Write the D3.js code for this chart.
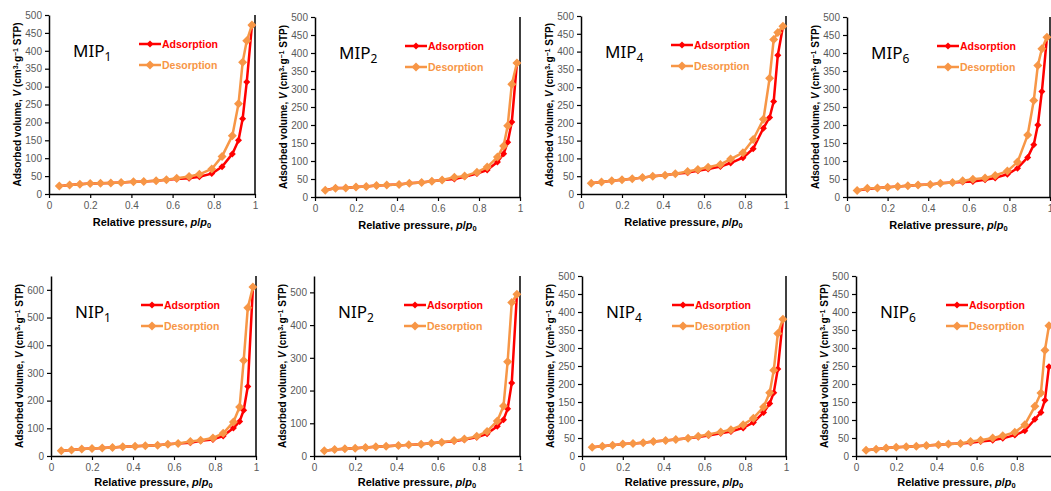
<!DOCTYPE html>
<html>
<head>
<meta charset="utf-8">
<script src="https://cdn.jsdelivr.net/npm/d3@7"></script>
<style>
  html, body { margin: 0; padding: 0; background: #fff; }
  svg { display: block; }
</style>
</head>
<body>
<svg id="chart" width="1051" height="491"></svg>
<script>
// ---------------- DATA ----------------
const pressure = [0.05, 0.10, 0.15, 0.20, 0.25, 0.30, 0.35, 0.41, 0.46, 0.52, 0.57, 0.62, 0.68, 0.73, 0.79, 0.84, 0.89, 0.92, 0.94, 0.96, 0.985];
const xTicks = [0, 0.2, 0.4, 0.6, 0.8, 1];
const xTickLabels = ["0", "0.2", "0.4", "0.6", "0.8", "1"];

const mip1Ads = [22, 25, 27, 29, 30, 31, 32, 34, 35, 37, 40, 42, 44, 48, 57, 76, 112, 150, 210, 313, 470];
const mip1Des = [22, 25, 27, 29, 30, 31, 32, 34, 35, 37, 40, 44, 49, 55, 70, 105, 163, 252, 368, 428, 472];
const mip2Ads = [19, 25, 25, 28, 29, 32, 33, 35, 38, 40, 44, 47, 50, 56, 65, 75, 97, 120, 152, 208, 372];
const mip2Des = [19, 24, 25, 28, 29, 32, 33, 35, 38, 40, 44, 47, 55, 58, 69, 83, 111, 142, 198, 313, 372];
const mip4Ads = [30, 34, 37, 40, 43, 46, 50, 53, 57, 60, 65, 70, 77, 87, 102, 127, 185, 215, 260, 390, 470];
const mip4Des = [30, 34, 37, 40, 43, 46, 50, 53, 57, 63, 69, 75, 83, 98, 116, 153, 210, 325, 434, 454, 471];
const mip6Ads = [18, 22, 25, 27, 29, 31, 33, 35, 38, 40, 42, 43, 48, 53, 63, 80, 110, 145, 200, 293, 444];
const mip6Des = [18, 24, 25, 27, 29, 31, 33, 35, 38, 40, 45, 49, 53, 60, 72, 97, 172, 268, 365, 412, 444];
const nip1Ads = [19, 22, 25, 27, 29, 31, 33, 35, 37, 39, 42, 45, 48, 55, 60, 72, 101, 125, 165, 251, 610];
const nip1Des = [19, 22, 25, 27, 29, 31, 33, 35, 37, 39, 42, 45, 52, 57, 65, 82, 123, 177, 345, 535, 610];
const nip2Ads = [16, 20, 22, 24, 26, 28, 30, 32, 34, 36, 39, 42, 45, 50, 57, 68, 91, 111, 144, 223, 494];
const nip2Des = [16, 20, 22, 24, 26, 28, 30, 32, 34, 36, 39, 42, 47, 52, 60, 75, 107, 153, 288, 469, 494];
const nip4Ads = [24, 27, 30, 33, 35, 37, 40, 43, 46, 49, 53, 57, 63, 68, 78, 93, 121, 146, 176, 242, 380];
const nip4Des = [24, 27, 30, 33, 35, 37, 40, 43, 46, 49, 55, 60, 67, 73, 87, 105, 136, 176, 238, 340, 380];
const nip6Ads = [16, 19, 22, 24, 26, 27, 29, 31, 33, 35, 37, 40, 44, 49, 58, 70, 102, 121, 155, 248];
const nip6Des = [16, 19, 22, 24, 26, 27, 29, 31, 33, 35, 40, 44, 50, 56, 66, 87, 138, 175, 294, 362];

const sampleNames = ["MIP", "MIP", "MIP", "MIP", "NIP", "NIP", "NIP", "NIP"];
const sampleSubs = ["1", "2", "4", "6", "1", "2", "4", "6"];
const adsSeries = [mip1Ads, mip2Ads, mip4Ads, mip6Ads, nip1Ads, nip2Ads, nip4Ads, nip6Ads];
const desSeries = [mip1Des, mip2Des, mip4Des, mip6Des, nip1Des, nip2Des, nip4Des, nip6Des];
const yMaxes = [500, 500, 500, 500, 650, 550, 500, 500];
const ySteps = [50, 50, 50, 50, 100, 100, 50, 50];
const seriesNames = ["Adsorption", "Desorption"];

// ---------------- LAYOUT ----------------
// [left, right (x=1), top (y max), bottom (y=0)]
const boxes = [
  [49, 255, 15, 194],
  [315, 520, 17, 197],
  [581, 786, 16, 194],
  [847, 1050, 17, 197],
  [51, 256, 276, 456],
  [314, 520, 276, 456],
  [582, 786, 276, 456],
  [856, 1057, 276, 456]
];
const xTitleOffset = [32, 32, 32, 32, 30, 30, 30, 30];
const adsColor = "#FF0000";
const desColor = "#F79646";

const svg = d3.select("#chart");

function diamond(r) {
  return `M0,${-r}L${r},0L0,${r}L${-r},0Z`;
}

boxes.forEach((b, i) => {
  const [x0, x1, yT, yB] = b;
  const x = d3.scaleLinear().domain([0, 1]).range([x0, x1]);
  const y = d3.scaleLinear().domain([0, yMaxes[i]]).range([yB, yT]);
  const g = svg.append("g");

  // right border line
  g.append("line")
    .attr("x1", x(1)).attr("x2", x(1))
    .attr("y1", y(yMaxes[i])).attr("y2", y(0))
    .attr("stroke", "#000").attr("stroke-width", 1.5);

  // y axis
  const yAxis = d3.axisLeft(y)
    .tickValues(d3.range(0, yMaxes[i] + 1, ySteps[i]))
    .tickSize(4).tickSizeOuter(0).tickPadding(3)
    .tickFormat(d3.format("d"));
  const ga = g.append("g").attr("transform", `translate(${x0},0)`).call(yAxis);
  ga.select(".domain").attr("stroke", "#000").attr("stroke-width", 1.5);
  ga.selectAll(".tick line").attr("stroke", "#000").attr("stroke-width", 1.2);
  ga.selectAll(".tick text").attr("fill", "#595959")
    .style("font-family", "'Liberation Sans', Arial, sans-serif").style("font-size", "10px");

  // x axis
  const xAxis = d3.axisBottom(x)
    .tickValues(xTicks)
    .tickSize(4).tickSizeOuter(0).tickPadding(4)
    .tickFormat((d, k) => xTickLabels[k]);
  const gx = g.append("g").attr("transform", `translate(0,${yB})`).call(xAxis);
  gx.select(".domain").attr("stroke", "#000").attr("stroke-width", 1.5);
  gx.selectAll(".tick line").attr("stroke", "#000").attr("stroke-width", 1.2);
  gx.selectAll(".tick text").attr("fill", "#595959")
    .style("font-family", "'Liberation Sans', Arial, sans-serif").style("font-size", "10px");

  // series
  const line = d3.line().x(d => x(d[0])).y(d => y(d[1]));
  const ads = adsSeries[i].map((v, k) => [pressure[k], v]);
  const des = desSeries[i].map((v, k) => [pressure[k], v]);

  g.append("path").datum(ads).attr("d", line)
    .attr("fill", "none").attr("stroke", adsColor).attr("stroke-width", 2.5).attr("stroke-linejoin", "round");
  g.selectAll(null).data(ads).enter().append("path")
    .attr("d", diamond(3.5)).attr("transform", d => `translate(${x(d[0])},${y(d[1])})`)
    .attr("fill", adsColor);

  g.append("path").datum(des).attr("d", line)
    .attr("fill", "none").attr("stroke", desColor).attr("stroke-width", 2.5).attr("stroke-linejoin", "round");
  g.selectAll(null).data(des).enter().append("path")
    .attr("d", diamond(4.5)).attr("transform", d => `translate(${x(d[0])},${y(d[1])})`)
    .attr("fill", desColor);

  // legend
  const legendColors = [adsColor, desColor];
  const legendR = [3.5, 4.5];
  seriesNames.forEach((name, k) => {
    const ly = yT + 29 + k * 21;
    g.append("line").attr("x1", x0 + 90).attr("x2", x0 + 112)
      .attr("y1", ly).attr("y2", ly)
      .attr("stroke", legendColors[k]).attr("stroke-width", 2.5);
    g.append("path").attr("d", diamond(legendR[k]))
      .attr("transform", `translate(${x0 + 101},${ly})`).attr("fill", legendColors[k]);
    g.append("text").attr("x", x0 + 113).attr("y", ly).attr("dy", "0.35em")
      .attr("fill", legendColors[k])
      .style("font-family", "'Liberation Sans', Arial, sans-serif")
      .style("font-size", "10.5px").style("font-weight", "bold")
      .text(name);
  });

  // sample label
  const lab = g.append("text").attr("x", x0 + 24).attr("y", yT + 42)
    .attr("fill", "#000")
    .style("font-family", "'Noto Sans', sans-serif").style("font-size", "17px");
  lab.append("tspan").text(sampleNames[i]);
  lab.append("tspan").attr("dy", 4).style("font-size", "12px").text(sampleSubs[i]);

  // x title
  const xt = g.append("text").attr("x", (x0 + x1) / 2).attr("y", yB + xTitleOffset[i])
    .attr("text-anchor", "middle").attr("fill", "#000")
    .style("font-family", "'Liberation Sans', Arial, sans-serif")
    .style("font-size", "11px").style("font-weight", "bold");
  xt.append("tspan").text("Relative pressure, ");
  xt.append("tspan").style("font-style", "italic").text("p");
  xt.append("tspan").text("/");
  xt.append("tspan").style("font-style", "italic").text("p");
  xt.append("tspan").attr("dy", 2).style("font-size", "7.5px").text("0");

  // y title
  const cy = (yT + yB) / 2;
  const yt = g.append("text")
    .attr("transform", `translate(${x0 - 28},${cy}) rotate(-90)`)
    .attr("text-anchor", "middle").attr("fill", "#000")
    .style("font-family", "'Liberation Sans', Arial, sans-serif")
    .style("font-size", "10px").style("font-weight", "bold");
  yt.append("tspan").text("Adsorbed volume, ");
  yt.append("tspan").style("font-style", "italic").text("V");
  yt.append("tspan").text(" (cm");
  yt.append("tspan").attr("dy", -3.5).style("font-size", "7px").text("3");
  yt.append("tspan").attr("dy", 3.5).text("·g");
  yt.append("tspan").attr("dy", -3.5).style("font-size", "7px").text("−1");
  yt.append("tspan").attr("dy", 3.5).text(" STP)");
});
</script>
</body>
</html>
